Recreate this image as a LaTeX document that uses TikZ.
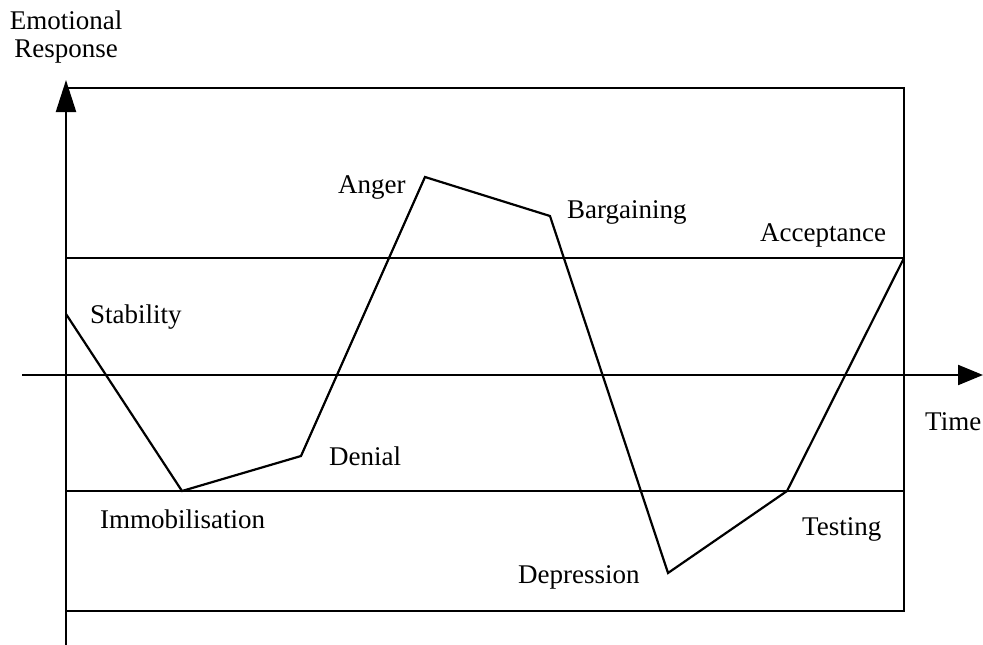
\documentclass[tikz,border=0pt]{standalone}
\usepackage{fontspec}
\setmainfont{Liberation Serif}
\usetikzlibrary{arrows.meta}
\begin{document}
\begin{tikzpicture}[x=1pt,y=-1pt,
  axis/.style={line width=2.2pt},
  frame/.style={line width=2.2pt},
  curve/.style={line width=2.2pt, line join=miter},
  lbl/.style={anchor=base west, inner sep=0pt, font=\fontsize{27}{28}\selectfont}]
\useasboundingbox (0,0) rectangle (983,645);

% phase points of the emotional curve
\coordinate (stab) at (66,314);
\coordinate (immo) at (182,491);
\coordinate (deni) at (301,456);
\coordinate (ange) at (425,177);
\coordinate (barg) at (550,216);
\coordinate (depr) at (668,573);
\coordinate (test) at (787,491);
\coordinate (acce) at (904,258);

% axis end points
\coordinate (ybot) at (66,645);
\coordinate (ytop) at (66,80);
\coordinate (xleft) at (22,375);
\coordinate (xright) at (983,375);

% frame and reference levels
\draw[frame] (66,88) rectangle (904,611);
\draw[frame] (66,258) -- (acce);
\draw[frame] (66,491) -- (904,491);

% axes
\draw[axis, -{Triangle[length=32pt,width=20pt]}] (ybot) -- (ytop);
\draw[axis, -{Triangle[length=25pt,width=20pt]}] (xleft) -- (xright);

% the curve
\draw[curve] (stab) -- (immo) -- (deni) -- (ange) -- (barg) -- (depr) -- (test) -- (acce);

% labels
\node[font=\fontsize{27}{28}\selectfont, align=center, inner sep=0pt, anchor=base] (ylab) at (66,57) {Emotional\\Response};
\node[lbl] (lstab) at (90,323) {Stability};
\node[lbl] (limmo) at (100,528) {Immobilisation};
\node[lbl] (ldeni) at (329,465) {Denial};
\node[lbl] (lange) at (338,193) {Anger};
\node[lbl] (lbarg) at (567,218) {Bargaining};
\node[lbl] (lacce) at (760,241) {Acceptance};
\node[lbl] (ldepr) at (518,583) {Depression};
\node[lbl] (ltest) at (802,535) {Testing};
\node[lbl] (ltime) at (925,430) {Time};
\end{tikzpicture}
\end{document}
